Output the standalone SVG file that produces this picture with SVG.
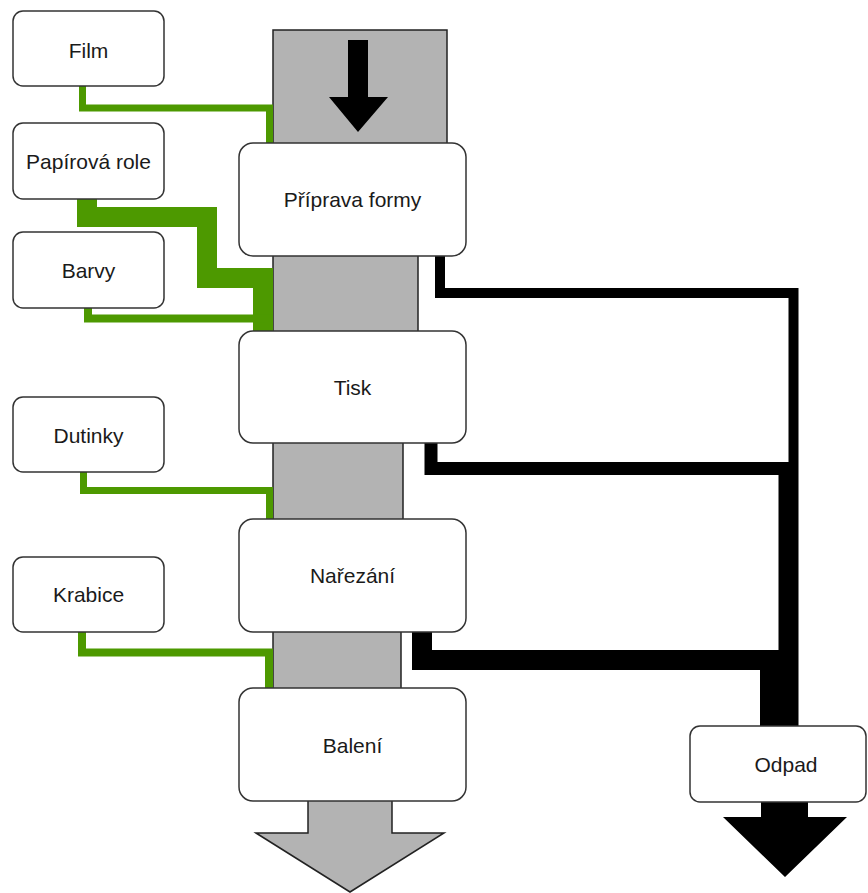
<svg xmlns="http://www.w3.org/2000/svg" width="868" height="893" viewBox="0 0 868 893">
<style>
.flow{fill:#b3b3b3;stroke:#222;stroke-width:1.5}
.box{fill:#fff;stroke:#333;stroke-width:1.5}
.t{font-family:"Liberation Sans",Arial,sans-serif;font-size:21px;fill:#1a1a1a;text-anchor:middle}
.g{fill:none;stroke:#4d9900;stroke-linejoin:miter;stroke-linecap:butt}
.k{fill:none;stroke:#000;stroke-linejoin:miter;stroke-linecap:butt}
</style>
<rect width="868" height="893" fill="#fff"/>
<g id="flow-column">
<rect class="flow" x="273" y="30" width="174" height="118"/>
<rect class="flow" x="273" y="250" width="145" height="86"/>
<rect class="flow" x="273" y="438" width="130" height="86"/>
<rect class="flow" x="273" y="627" width="128" height="66"/>
<path class="flow" d="M308,796 V833 H256 L350,892 L444,833 H392 V796 Z"/>
<path d="M348,40 H368 V97 H388 L358,132 L329,97 H348 Z" fill="#000"/>
</g>
<g id="connectors">
<path class="g" stroke-width="7" d="M82.5,86 V108 H269.5 V145"/>
<path class="g" stroke-width="20" d="M87,198 V217 H207 V278 H263 V333"/>
<path class="g" stroke-width="8" d="M88,307 V318.5 H269 V333"/>
<path class="g" stroke-width="7" d="M83.5,471 V490.5 H269.5 V521"/>
<path class="g" stroke-width="8" d="M82,631 V652.5 H269 V690"/>
<path class="k" stroke-width="10" d="M440,255 V293 H793.5 V728"/>
<path class="k" stroke-width="13" d="M431,442 V468.5 H785 V728"/>
<path class="k" stroke-width="20" d="M422,631 V660 H770 V728"/>
<path d="M761,800 V817 H723 L785,877 L847,817 H808 V800 Z" fill="#000"/>
</g>
<g id="film"><rect class="box" x="13" y="11" width="151" height="75" rx="10"/><text class="t" x="88.5" y="57.5">Film</text></g>
<g id="papirova-role"><rect class="box" x="13" y="123" width="151" height="76" rx="10"/><text class="t" x="88.5" y="169">Papírová role</text></g>
<g id="barvy"><rect class="box" x="13" y="232" width="151" height="76" rx="10"/><text class="t" x="88.5" y="278">Barvy</text></g>
<g id="dutinky"><rect class="box" x="13" y="397" width="151" height="75" rx="10"/><text class="t" x="88.5" y="443">Dutinky</text></g>
<g id="krabice"><rect class="box" x="13" y="557" width="151" height="75" rx="10"/><text class="t" x="88.5" y="602">Krabice</text></g>
<g id="priprava-formy"><rect class="box" x="239" y="143" width="227" height="113" rx="14"/><text class="t" x="352.5" y="207">Příprava formy</text></g>
<g id="tisk"><rect class="box" x="239" y="331" width="227" height="112" rx="14"/><text class="t" x="352.5" y="395">Tisk</text></g>
<g id="narezani"><rect class="box" x="239" y="519" width="227" height="113" rx="14"/><text class="t" x="352.5" y="583">Nařezání</text></g>
<g id="baleni"><rect class="box" x="239" y="688" width="227" height="113" rx="14"/><text class="t" x="352.5" y="753">Balení</text></g>
<g id="odpad"><rect class="box" x="690" y="726" width="176" height="76" rx="10"/><text class="t" x="786" y="772">Odpad</text></g>
</svg>
